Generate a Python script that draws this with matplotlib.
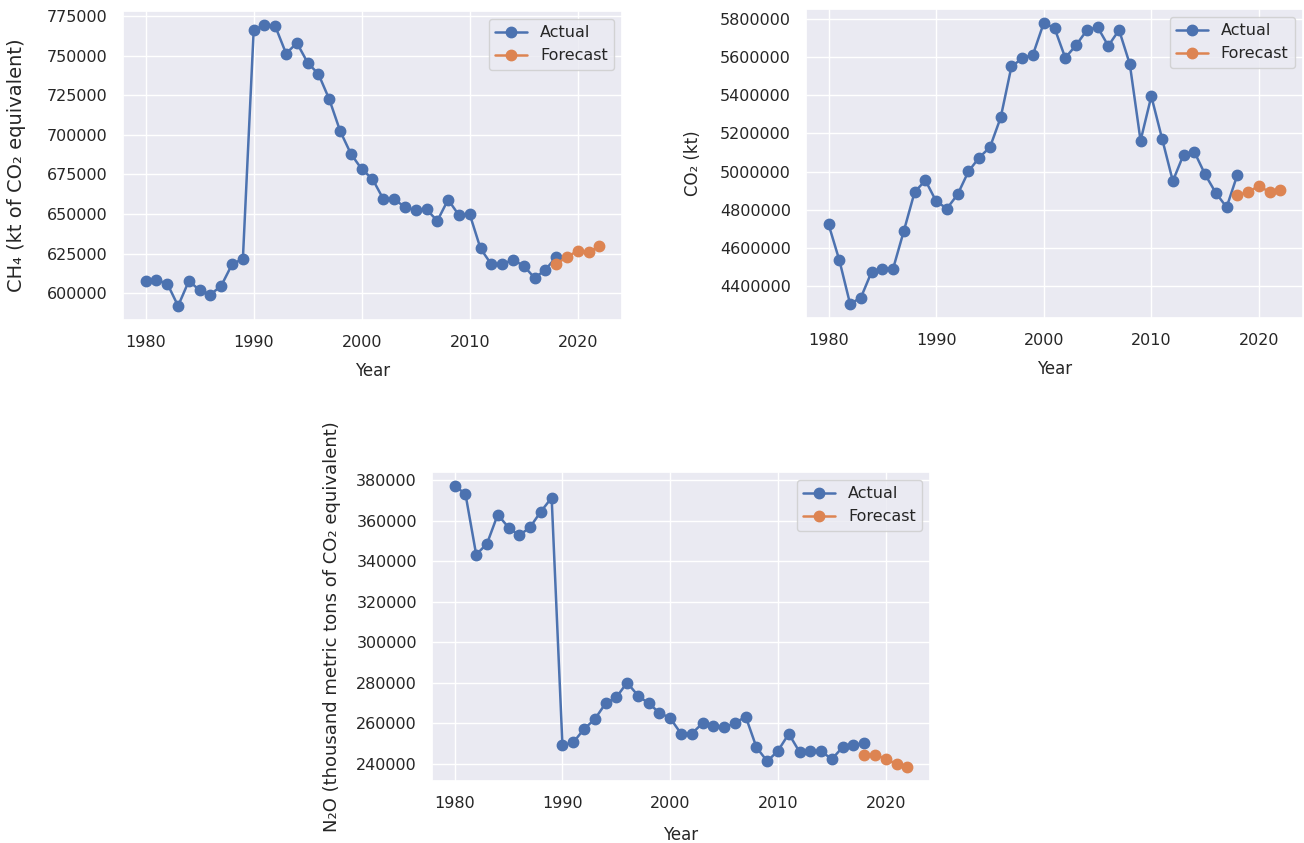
import matplotlib
matplotlib.use("Agg")
import matplotlib.pyplot as plt
import seaborn as sns

sns.set_theme(style="darkgrid")
plt.rcParams['font.family'] = ['DejaVu Sans']

years = list(range(1980, 2019))
forecast_years = list(range(2018, 2023))

ch4_actual = [607800, 608400, 606100, 592000, 607800, 601900, 599200, 604800, 618300, 621800,
              766200, 769300, 768500, 751300, 758000, 745500, 738300, 722400, 702500, 688000,
              678400, 672100, 659500, 659300, 654500, 652400, 653000, 645700, 659100, 649300,
              649900, 628300, 618300, 618500, 621000, 617400, 609700, 614700, 622900]
ch4_forecast = [618500, 622900, 626800, 626000, 629600]

co2_actual = [4722700, 4535000, 4305700, 4338700, 4474200, 4491600, 4491600, 4689700, 4892900, 4953800,
              4844300, 4806100, 4880800, 5000700, 5073700, 5127500, 5283900, 5551500, 5593200, 5614100,
              5779100, 5753100, 5596700, 5662700, 5740900, 5758300, 5659300, 5742700, 5563700, 5162300,
              5395100, 5172700, 4950300, 5089300, 5103300, 4985100, 4887800, 4813100, 4983300]
co2_forecast = [4877300, 4891200, 4926000, 4891200, 4903400]

n2o_actual = [377100, 373300, 343200, 348600, 363000, 356600, 352700, 356800, 364500, 371300,
              249100, 250400, 257000, 261900, 269700, 272700, 280000, 273600, 269700, 265100,
              262400, 254800, 254800, 259900, 258600, 257800, 259900, 263200, 248000, 241100,
              246300, 254700, 245700, 246300, 246000, 242200, 248100, 249300, 249900]
n2o_forecast = [244400, 244200, 242400, 239600, 238300]

ylabels = ["CH\u2084 (kt of CO\u2082 equivalent)",
           "CO\u2082 (kt)",
           "N\u2082O (thousand metric tons of CO\u2082 equivalent)"]
xticks = [1980, 1990, 2000, 2010, 2020]

W, H = 1304, 843
fig = plt.figure(figsize=(W / 100, H / 100), dpi=100)

def rect(l, t, r, b):
    return [l / W, 1 - b / H, (r - l) / W, (b - t) / H]

axes = [fig.add_axes(rect(123, 11, 622, 320)),
        fig.add_axes(rect(806, 9, 1303, 318)),
        fig.add_axes(rect(432, 472, 930, 781))]

series = [(ch4_actual, ch4_forecast), (co2_actual, co2_forecast), (n2o_actual, n2o_forecast)]
ylabel_sizes = [14, 12, 13]
ylabel_pads = [15, 13, 11]
xlabel_pads = [9, 9, 11.2]
blue, orange = sns.color_palette()[0], sns.color_palette()[1]

for i, ax in enumerate(axes):
    act, fc = series[i]
    ax.plot(years, act, marker='o', color=blue, lw=1.8, ms=7.5, label='Actual')
    ax.plot(forecast_years, fc, marker='o', color=orange, lw=1.8, ms=7.5, label='Forecast')
    ax.set_xlabel("Year", fontsize=12, labelpad=xlabel_pads[i])
    ax.set_ylabel(ylabels[i], fontsize=ylabel_sizes[i], labelpad=ylabel_pads[i])
    ax.tick_params(axis='x', labelsize=11.5, size=0, pad=10.5)
    ax.tick_params(axis='y', labelsize=11.5, size=0, pad=10.8)
    ax.set_xticks(xticks)
    ax.ticklabel_format(axis='y', style='plain', useOffset=False)
    ax.legend(loc='upper right', fontsize=11.5)

fig.savefig("out.png", dpi=100)
